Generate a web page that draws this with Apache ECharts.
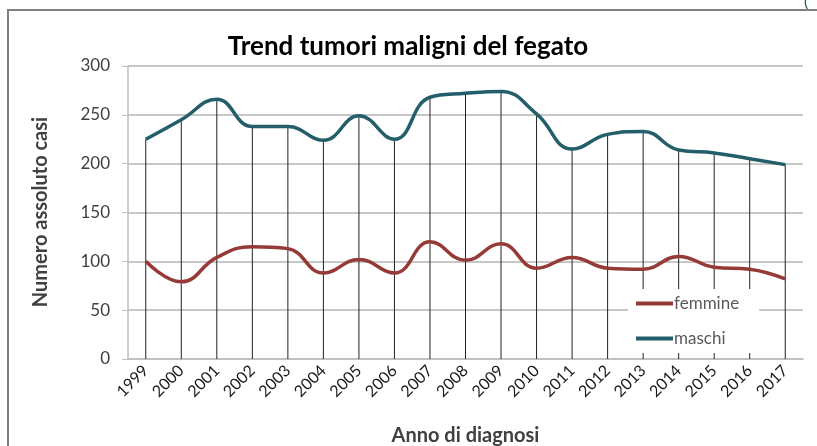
<!DOCTYPE html>
<html>
<head>
<meta charset="utf-8">
<script src="https://cdn.jsdelivr.net/npm/echarts@6/dist/echarts.min.js"></script>
<style>
    html, body { margin: 0; padding: 0; background: #fff; }
    #chart { width: 817px; height: 446px; }
</style>
</head>
<body>
<div id="chart"></div>
<script>
// anni di diagnosi
var anni = ['1999', '2000', '2001', '2002', '2003', '2004', '2005', '2006', '2007', '2008',
    '2009', '2010', '2011', '2012', '2013', '2014', '2015', '2016', '2017'];
// casi femmine
var femmine = [100, 79, 104, 115, 113, 88, 102, 88, 120, 101, 118, 93, 104, 93, 92, 105, 94, 92, 82];
// casi maschi
var maschi = [225, 245, 266, 238, 238, 224, 249, 225, 268, 272, 274, 251, 215, 230, 233, 214, 211, 205, 199];
var yTicks = [0, 50, 100, 150, 200, 250, 300];

var fontName = 'Lato, "Open Sans", sans-serif';
var myChart = echarts.init(document.getElementById('chart'));

var option = {
    backgroundColor: '#fff',
    animation: false,
    textStyle: { fontFamily: fontName },
    title: {
        text: 'Trend tumori maligni del fegato',
        left: 403,
        top: 29,
        textAlign: 'center',
        textStyle: {
            fontFamily: fontName,
            fontSize: 26,
            fontWeight: 'bold',
            color: '#000'
        }
    },
    graphic: [
        {
            type: 'polyline',
            shape: { points: [[8, 460], [8, 10], [830, 10]] },
            style: { stroke: '#808080', lineWidth: 2, fill: null },
            z: 0
        },
        {
            type: 'text',
            left: 804,
            top: -6,
            style: { text: '(', fill: '#255e6b', font: '16px ' + fontName }
        },
        {
            type: 'text',
            x: 41,
            y: 212,
            rotation: Math.PI / 2,
            style: {
                text: 'Numero assoluto casi',
                fill: '#404040',
                font: 'bold 20px ' + fontName,
                align: 'center',
                verticalAlign: 'middle'
            }
        }
    ],
    grid: {
        left: 128,
        right: 14,
        top: 66,
        bottom: 87,
        outerBoundsMode: 'none'
    },
    legend: {
        orient: 'vertical',
        left: 628,
        top: 289,
        padding: [6, 20, 6, 8],
        backgroundColor: '#fff',
        itemWidth: 37,
        itemHeight: 4,
        itemGap: 18,
        icon: 'rect',
        data: ['femmine', 'maschi'],
        textStyle: { fontFamily: fontName, fontSize: 17, color: '#595959', padding: [0, 0, 0, -4] }
    },
    xAxis: {
        type: 'category',
        data: anni,
        boundaryGap: true,
        name: 'Anno di diagnosi',
        nameLocation: 'middle',
        nameGap: 67,
        nameTextStyle: { fontFamily: fontName, fontSize: 20, fontWeight: 'bold', color: '#404040' },
        axisLine: { lineStyle: { color: '#bfbfbf', width: 1.5 } },
        axisTick: { alignWithLabel: true, length: 5, lineStyle: { color: '#404040' } },
        axisLabel: {
            rotate: 45,
            interval: 0,
            margin: 9,
            fontFamily: fontName,
            fontSize: 16,
            color: '#1a1a1a'
        }
    },
    yAxis: {
        type: 'value',
        min: 0,
        max: 300,
        interval: 50,
        axisLine: { show: true, lineStyle: { color: '#bfbfbf', width: 1.5 } },
        axisTick: { show: true, length: 6, lineStyle: { color: '#bfbfbf' } },
        splitLine: { lineStyle: { color: '#b4b4b4', width: 1.5 } },
        axisLabel: {
            margin: 18,
            fontFamily: fontName,
            fontSize: 17,
            color: '#404040',
            formatter: function (v) { return yTicks.indexOf(v) >= 0 ? String(v) : ''; }
        }
    },
    series: [
        {
            // linee di riferimento (drop lines)
            name: 'drop',
            type: 'bar',
            data: maschi,
            barWidth: 1,
            silent: true,
            itemStyle: { color: '#222' },
            z: 1
        },
        {
            name: 'femmine',
            type: 'line',
            data: femmine,
            smooth: 0.45,
            showSymbol: false,
            symbol: 'none',
            lineStyle: { color: '#963a37', width: 3.5 },
            itemStyle: { color: '#963a37' },
            z: 3
        },
        {
            name: 'maschi',
            type: 'line',
            data: maschi,
            smooth: 0.45,
            showSymbol: false,
            symbol: 'none',
            lineStyle: { color: '#255e6b', width: 3.5 },
            itemStyle: { color: '#255e6b' },
            z: 3
        }
    ]
};
option && myChart.setOption(option);
</script>
</body>
</html>
